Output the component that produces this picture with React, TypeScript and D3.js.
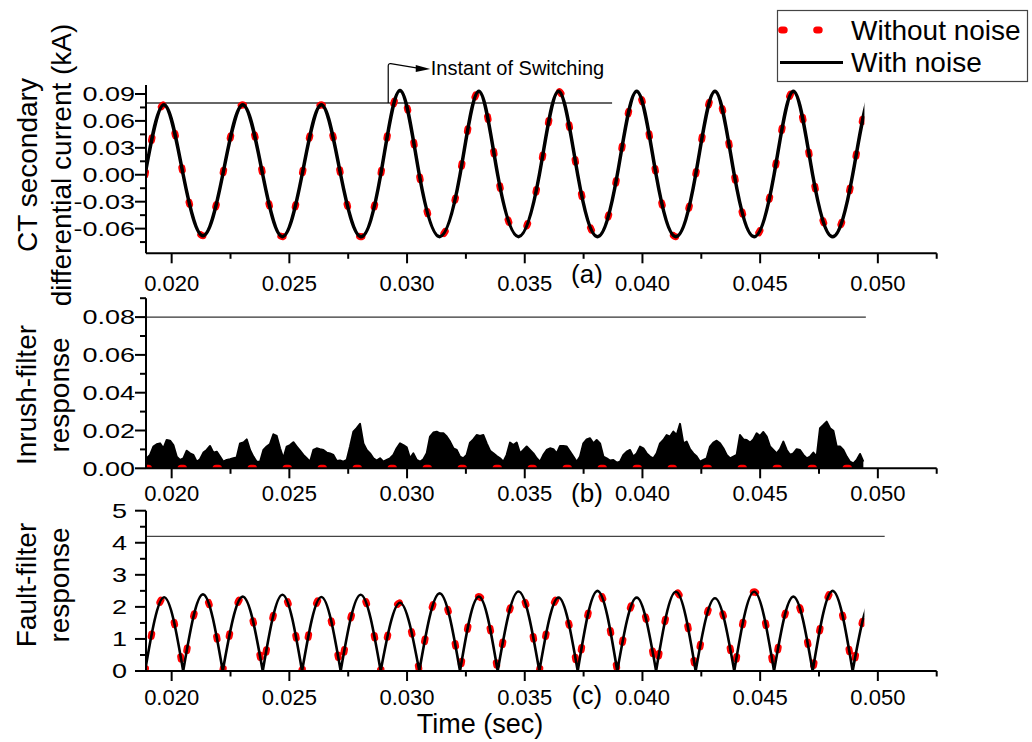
import React from "react";
import * as d3 from "d3";

// Zero crossings of the CT current (s); the fault-filter output is the rectified version
const zeroCrossings = [
  0.01887, 0.02049, 0.02217, 0.02387, 0.02554, 0.02718, 0.02888, 0.03052, 0.03225, 0.03385,
  0.03562, 0.03725, 0.03893, 0.04058, 0.04226, 0.0439, 0.04559, 0.04723, 0.04893, 0.0506,
];
// Peak or trough of every half-cycle of the differential current (kA)
const currentExtrema = [
  0.078, -0.068, 0.078, -0.069, 0.078, -0.069, 0.094, -0.069, 0.093, -0.069,
  0.093, -0.069, 0.093, -0.069, 0.093, -0.069, 0.093, -0.069, 0.093,
];
// Peak of every hump of the fault-filter response
const faultPeaks = [
  2.3, 2.39, 2.32, 2.38, 2.31, 2.38, 2.13, 2.42, 2.32, 2.48,
  2.29, 2.5, 2.29, 2.47, 2.27, 2.47, 2.32, 2.5, 2.25,
];
// Last recorded instant (s)
const traceEnd = 0.04943;

// Inrush-filter response with noise: envelope sampled on a fixed time grid
const inrushStart = 0.01894;
const inrushStep = 0.0001416;
const inrushEnvelope = [
  0.0053, 0.0071, 0.0115, 0.0127, 0.0132, 0.0106, 0.015, 0.0146, 0.0123, 0.0062,
  0.0044, 0.0053, 0.0093, 0.0079, 0.0071, 0.0035, 0.0048, 0.0083, 0.0097, 0.0118,
  0.0083, 0.0088, 0.0062, 0.0035, 0.0044, 0.0048, 0.0053, 0.0058, 0.0132, 0.0136,
  0.0153, 0.0097, 0.0062, 0.0035, 0.0035, 0.0097, 0.0115, 0.0129, 0.018, 0.0171,
  0.0106, 0.0053, 0.0115, 0.0123, 0.0138, 0.0115, 0.0093, 0.0071, 0.0053, 0.0035,
  0.0097, 0.0106, 0.0101, 0.0097, 0.0083, 0.0079, 0.0071, 0.0039, 0.0041, 0.0035,
  0.0044, 0.0115, 0.0194, 0.0212, 0.0235, 0.0132, 0.0097, 0.0079, 0.0053, 0.0041,
  0.0053, 0.0035, 0.0044, 0.0053, 0.0071, 0.0106, 0.0132, 0.0123, 0.0111, 0.0053,
  0.0079, 0.0044, 0.0035, 0.0048, 0.0079, 0.0168, 0.0189, 0.0194, 0.0185, 0.0185,
  0.0168, 0.0141, 0.0106, 0.0097, 0.0062, 0.0053, 0.0071, 0.0136, 0.0153, 0.0176,
  0.0171, 0.0176, 0.0132, 0.0093, 0.0079, 0.0065, 0.0053, 0.0035, 0.0071,
  0.0136, 0.0123, 0.0136, 0.0079, 0.0097, 0.0115, 0.0097, 0.0079, 0.0053, 0.0035,
  0.0071, 0.0097, 0.0106, 0.0101, 0.0079, 0.0118, 0.0118, 0.0115, 0.0088, 0.0062,
  0.0035, 0.0062, 0.0132, 0.0153, 0.0159, 0.0132, 0.015, 0.0132, 0.0062, 0.0053,
  0.0041, 0.0044, 0.003, 0.0035, 0.0071, 0.0088, 0.0097, 0.0062, 0.0079, 0.0115,
  0.0106, 0.0079, 0.0062, 0.0053, 0.0079, 0.0132, 0.015, 0.0176, 0.0168, 0.0194,
  0.0176, 0.0235, 0.0132, 0.0141, 0.0101, 0.0079, 0.0062, 0.0035, 0.0044, 0.0053,
  0.0115, 0.0136, 0.0146, 0.0132, 0.0106, 0.0071, 0.0053, 0.0062, 0.0071, 0.0176,
  0.0153, 0.015, 0.0136, 0.0153, 0.0185, 0.0171, 0.0192, 0.0168, 0.0115, 0.0097,
  0.0079, 0.0101, 0.0141, 0.0097, 0.0071, 0.0079, 0.0101, 0.0097, 0.0071, 0.0053,
  0.0062, 0.0083, 0.0062, 0.0212, 0.0229, 0.0247, 0.0212, 0.0199, 0.0115, 0.0115,
  0.0097, 0.0062, 0.0035, 0.0026, 0.0044, 0.0076, 0.0035,
];
// Inrush-filter response without noise stays on zero
const inrushCleanTimes = [0.01891, 0.04938];
const inrushCleanValues = [0, 0];

// Threshold lines: level and end time for panels (a), (b), (c)
const thresholdLevels = [0.08, 0.08, 4.2];
const thresholdEnds = [0.03871, 0.04949, 0.05029];
const switchTime = 0.0292;

// Axes
const xDomain = [0.01891, 0.0525];
const xMajor = [0.02, 0.025, 0.03, 0.035, 0.04, 0.045, 0.05];
const xMajorLabels = ["0.020", "0.025", "0.030", "0.035", "0.040", "0.045", "0.050"];
const xMinor = [0.0225, 0.0275, 0.0325, 0.0375, 0.0425, 0.0475, 0.0525];
const aMajor = [0.09, 0.06, 0.03, 0, -0.03, -0.06];
const aLabels = ["0.09", "0.06", "0.03", "0.00", "-0.03", "-0.06"];
const aMinor = [0.075, 0.045, 0.015, -0.015, -0.045, -0.075];
const bMajor = [0.08, 0.06, 0.04, 0.02, 0];
const bLabels = ["0.08", "0.06", "0.04", "0.02", "0.00"];
const bMinor = [0.09, 0.07, 0.05, 0.03, 0.01];
const cMajor = [5, 4, 3, 2, 1, 0];
const cLabels = ["5", "4", "3", "2", "1", "0"];
const cMinor = [4.5, 3.5, 2.5, 1.5, 0.5];

const legendLabels = ["Without noise", "With noise"];
const panelTags = ["(a)", "(b)", "(c)"];

const FONT = "'Liberation Sans', Arial, Helvetica, sans-serif";
const RED = "#ff0000";
const DOTS = { stroke: RED, strokeWidth: 7, strokeDasharray: "2.5 32.5", strokeLinecap: "round" as const, fill: "none" };

type Pt = [number, number];

export default function App() {
  const x = d3.scaleLinear().domain(xDomain).range([146, 936.7]);
  const ya = d3.scaleLinear().domain([-0.0875, 0.1]).range([253.3, 85]);
  const yb = d3.scaleLinear().domain([0, 0.09]).range([468.3, 298.2]);
  const yc = d3.scaleLinear().domain([0, 5]).range([671, 510.7]);

  // (a) current through zero crossings and half-cycle extrema
  const aPts: Pt[] = [];
  zeroCrossings.forEach((z, i) => {
    aPts.push([z, 0]);
    if (i < currentExtrema.length) aPts.push([(z + zeroCrossings[i + 1]) / 2, currentExtrema[i]]);
  });
  const lineA = d3.line<Pt>().x((d) => x(d[0])).y((d) => ya(d[1])).curve(d3.curveNatural);
  const pathA = lineA(aPts) || "";

  // (c) one smooth hump per half-cycle, joined into one path with cusps at zero
  const lineC = d3.line<Pt>().x((d) => x(d[0])).y((d) => yc(d[1])).curve(d3.curveNatural);
  const pathC = faultPeaks
    .map((p, i) => {
      const z0 = zeroCrossings[i];
      const z1 = zeroCrossings[i + 1];
      const seg = lineC([[z0, 0], [(z0 + z1) / 2, p], [z1, 0]]) || "";
      return i === 0 ? seg : seg.replace(/^M[^C]*/, "");
    })
    .join("");

  // (b) noisy envelope and clean baseline
  const bPts: Pt[] = inrushEnvelope.map((v, i) => [inrushStart + i * inrushStep, v]);
  const areaB = d3.area<Pt>().x((d) => x(d[0])).y0(yb(0)).y1((d) => yb(d[1]));
  const lineB = d3.line<Pt>().x((d) => x(d[0])).y((d) => yb(d[1]));
  const pathB = lineB(bPts) || "";
  const pathBArea = areaB(bPts) || "";
  const pathBClean = lineB(inrushCleanTimes.map((t, i) => [t, inrushCleanValues[i]] as Pt)) || "";

  const xEnd = x(traceEnd);

  const xAxis = (y0: number, labelBase: number) => (
    <g>
      <line x1={146} x2={x(xDomain[1])} y1={y0} y2={y0} stroke="#000" strokeWidth={2} />
      {xMajor.map((t) => (
        <line key={"M" + t} x1={x(t)} x2={x(t)} y1={y0} y2={y0 + 10} stroke="#000" strokeWidth={2} />
      ))}
      {xMinor.map((t) => (
        <line key={"m" + t} x1={x(t)} x2={x(t)} y1={y0} y2={y0 + 5.5} stroke="#000" strokeWidth={2} />
      ))}
      {xMajor.map((t, i) => (
        <text key={"L" + t} x={x(t)} y={labelBase} textAnchor="middle" fontSize={22}>
          {xMajorLabels[i]}
        </text>
      ))}
    </g>
  );

  const yAxis = (
    y: d3.ScaleLinear<number, number>,
    major: number[],
    labels: string[],
    minor: number[],
    labelRight: number
  ) => {
    const [lo, hi] = y.domain();
    return (
      <g>
        <line x1={146} x2={146} y1={y(hi)} y2={y(lo)} stroke="#000" strokeWidth={2} />
        {major.map((v) => (
          <line key={"M" + v} x1={135} x2={146} y1={y(v)} y2={y(v)} stroke="#000" strokeWidth={2} />
        ))}
        {minor.map((v) => (
          <line key={"m" + v} x1={140} x2={146} y1={y(v)} y2={y(v)} stroke="#000" strokeWidth={2} />
        ))}
        {major.map((v, i) => (
          <text
            key={"L" + v}
            transform={`translate(${labelRight},${y(v)}) scale(1.35,1)`}
            textAnchor="end"
            dy="0.36em"
            fontSize={20}
          >
            {labels[i]}
          </text>
        ))}
      </g>
    );
  };

  const title = (lines: string[], cy: number, bases: number[]) => (
    <g>
      {lines.map((s, i) => (
        <text key={s} transform={`translate(${bases[i]},${cy}) rotate(-90)`} textAnchor="middle" fontSize={28}>
          {s}
        </text>
      ))}
    </g>
  );

  const xs = x(switchTime);
  const ys = ya(thresholdLevels[0]);

  return (
    <svg
      width={1032}
      height={742}
      style={{ position: "absolute", left: 0, top: 0, background: "#fff" }}
      fontFamily={FONT}
    >
      <defs>
        <clipPath id="clipA">
          <rect x={146} y={70} width={xEnd - 146} height={253.3 - 70} />
        </clipPath>
        <clipPath id="clipB">
          <rect x={146} y={290} width={xEnd - 146} height={468.3 - 290} />
        </clipPath>
        <clipPath id="clipC">
          <rect x={146} y={500} width={xEnd - 146} height={671 - 500} />
        </clipPath>
      </defs>

      {/* threshold lines */}
      <line x1={146} x2={x(thresholdEnds[0])} y1={ya(thresholdLevels[0])} y2={ya(thresholdLevels[0])} stroke="#333" strokeWidth={1.4} />
      <line x1={146} x2={x(thresholdEnds[1])} y1={yb(thresholdLevels[1])} y2={yb(thresholdLevels[1])} stroke="#333" strokeWidth={1.4} />
      <line x1={146} x2={x(thresholdEnds[2])} y1={yc(thresholdLevels[2])} y2={yc(thresholdLevels[2])} stroke="#444" strokeWidth={1.4} />

      {/* (a) differential current */}
      <g clipPath="url(#clipA)">
        <path d={pathA} {...DOTS} />
        <path d={pathA} fill="none" stroke="#000" strokeWidth={3.5} strokeLinejoin="round" />
      </g>

      {/* (b) inrush-filter response */}
      <g clipPath="url(#clipB)">
        <path d={pathBArea} fill="#000" />
        <path d={pathB} fill="none" stroke="#000" strokeWidth={2} strokeLinejoin="round" />
        <path d={pathBClean} {...DOTS} />
      </g>

      {/* (c) fault-filter response */}
      <g clipPath="url(#clipC)">
        <path d={pathC} {...DOTS} />
        <path d={pathC} fill="none" stroke="#000" strokeWidth={2.6} strokeLinejoin="round" />
      </g>

      {/* switching marker */}
      <path
        d={`M${xs},${ys} L${xs},${ys - 37} Q${xs},${ys - 39.5} ${xs + 2.5},${ys - 39.3} L${xs + 28},${ys - 35}`}
        fill="none"
        stroke="#000"
        strokeWidth={1.2}
      />
      <path d={`M${xs + 27.5},${ys - 38} L${xs + 42},${ys - 34} L${xs + 27.5},${ys - 31} Z`} fill="#000" />
      <text x={xs + 42.5} y={ys - 28} fontSize={20}>
        Instant of Switching
      </text>

      {/* axes */}
      {yAxis(ya, aMajor, aLabels, aMinor, 135)}
      {yAxis(yb, bMajor, bLabels, bMinor, 135)}
      {yAxis(yc, cMajor, cLabels, cMinor, 127)}
      {xAxis(253.3, 291)}
      {xAxis(468.3, 501)}
      {xAxis(671, 705)}

      {/* panel tags */}
      <text x={587} y={283} textAnchor="middle" fontSize={26}>{panelTags[0]}</text>
      <text x={587} y={502} textAnchor="middle" fontSize={26}>{panelTags[1]}</text>
      <text x={587} y={704} textAnchor="middle" fontSize={26}>{panelTags[2]}</text>

      {/* axis titles */}
      {title(["CT secondary", "differential current (kA)"], 165, [37, 71])}
      {title(["Inrush-filter", "response"], 395, [36, 69])}
      {title(["Fault-filter", "response"], 585, [36, 69])}
      <text x={480} y={733} textAnchor="middle" fontSize={27}>
        Time (sec)
      </text>

      {/* legend */}
      <rect x={777.5} y={10.5} width={250} height={71} fill="#fff" stroke="#444" strokeWidth={1.2} />
      <line x1={781.7} x2={843} y1={30} y2={30} {...DOTS} />
      <line x1={780} x2={843} y1={62.5} y2={62.5} stroke="#000" strokeWidth={3} />
      <text x={851} y={40} fontSize={28}>{legendLabels[0]}</text>
      <text x={851} y={72} fontSize={28}>{legendLabels[1]}</text>
    </svg>
  );
}
